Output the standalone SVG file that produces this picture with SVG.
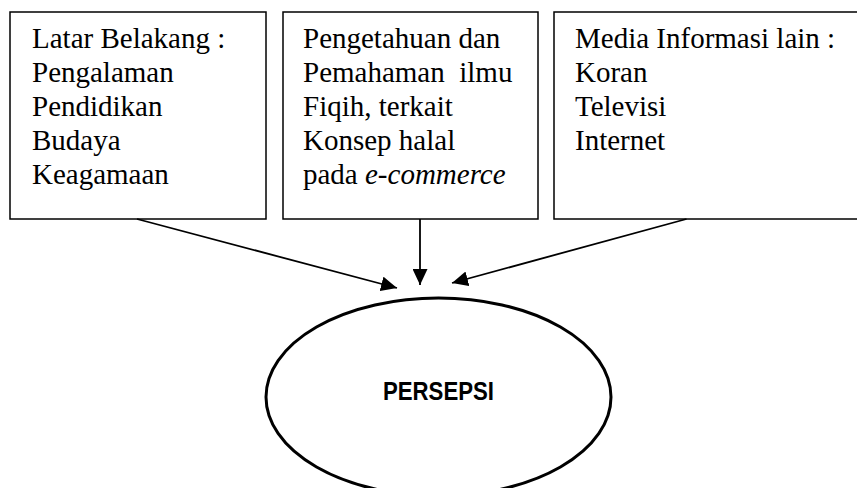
<svg xmlns="http://www.w3.org/2000/svg" width="857" height="488" viewBox="0 0 857 488">
<style>
.box{fill:#fff;stroke:#000;stroke-width:1.5}
.t{font-family:"Liberation Serif","Times New Roman",serif;font-size:29px;fill:#000}
.conn{stroke:#000;stroke-width:1.8;fill:none}
.ell{fill:#fff;stroke:#000;stroke-width:3}
.lbl{font-family:"Liberation Sans",Arial,sans-serif;font-weight:bold;font-size:25px;fill:#000}
</style>
<defs>
<marker id="ah" viewBox="0 0 16 15" refX="16" refY="7.5" markerWidth="16" markerHeight="15" orient="auto" markerUnits="userSpaceOnUse">
<path d="M0,0 L16,7.5 L0,15 z" fill="#000"/>
</marker>
</defs>
<rect width="857" height="488" fill="#fff"/>
<g id="node-latar">
<rect class="box" x="10" y="12" width="256" height="207"/>
<text class="t" x="32" y="48">Latar Belakang :</text>
<text class="t" x="32" y="82">Pengalaman</text>
<text class="t" x="32" y="116">Pendidikan</text>
<text class="t" x="32" y="150">Budaya</text>
<text class="t" x="32" y="184">Keagamaan</text>
</g>
<g id="node-pengetahuan">
<rect class="box" x="283" y="12" width="255" height="207"/>
<text class="t" x="303" y="48">Pengetahuan dan</text>
<text class="t" x="303" y="82" xml:space="preserve">Pemahaman  ilmu</text>
<text class="t" x="303" y="116">Fiqih, terkait</text>
<text class="t" x="303" y="150">Konsep halal</text>
<text class="t" x="303" y="184">pada <tspan font-style="italic">e-commerce</tspan></text>
</g>
<g id="node-media">
<rect class="box" x="554" y="12" width="320" height="207"/>
<text class="t" x="575" y="48">Media Informasi lain :</text>
<text class="t" x="575" y="82">Koran</text>
<text class="t" x="575" y="116">Televisi</text>
<text class="t" x="575" y="150">Internet</text>
</g>
<g id="connectors">
<line class="conn" x1="137" y1="219" x2="397" y2="288" marker-end="url(#ah)"/>
<line class="conn" x1="420" y1="219" x2="420" y2="285" marker-end="url(#ah)"/>
<line class="conn" x1="686.5" y1="219" x2="452" y2="283" marker-end="url(#ah)"/>
</g>
<g id="node-persepsi">
<ellipse class="ell" cx="438.5" cy="397" rx="172.5" ry="99"/>
<text class="lbl" x="438.5" y="400" text-anchor="middle" textLength="111" lengthAdjust="spacingAndGlyphs">PERSEPSI</text>
</g>
</svg>
